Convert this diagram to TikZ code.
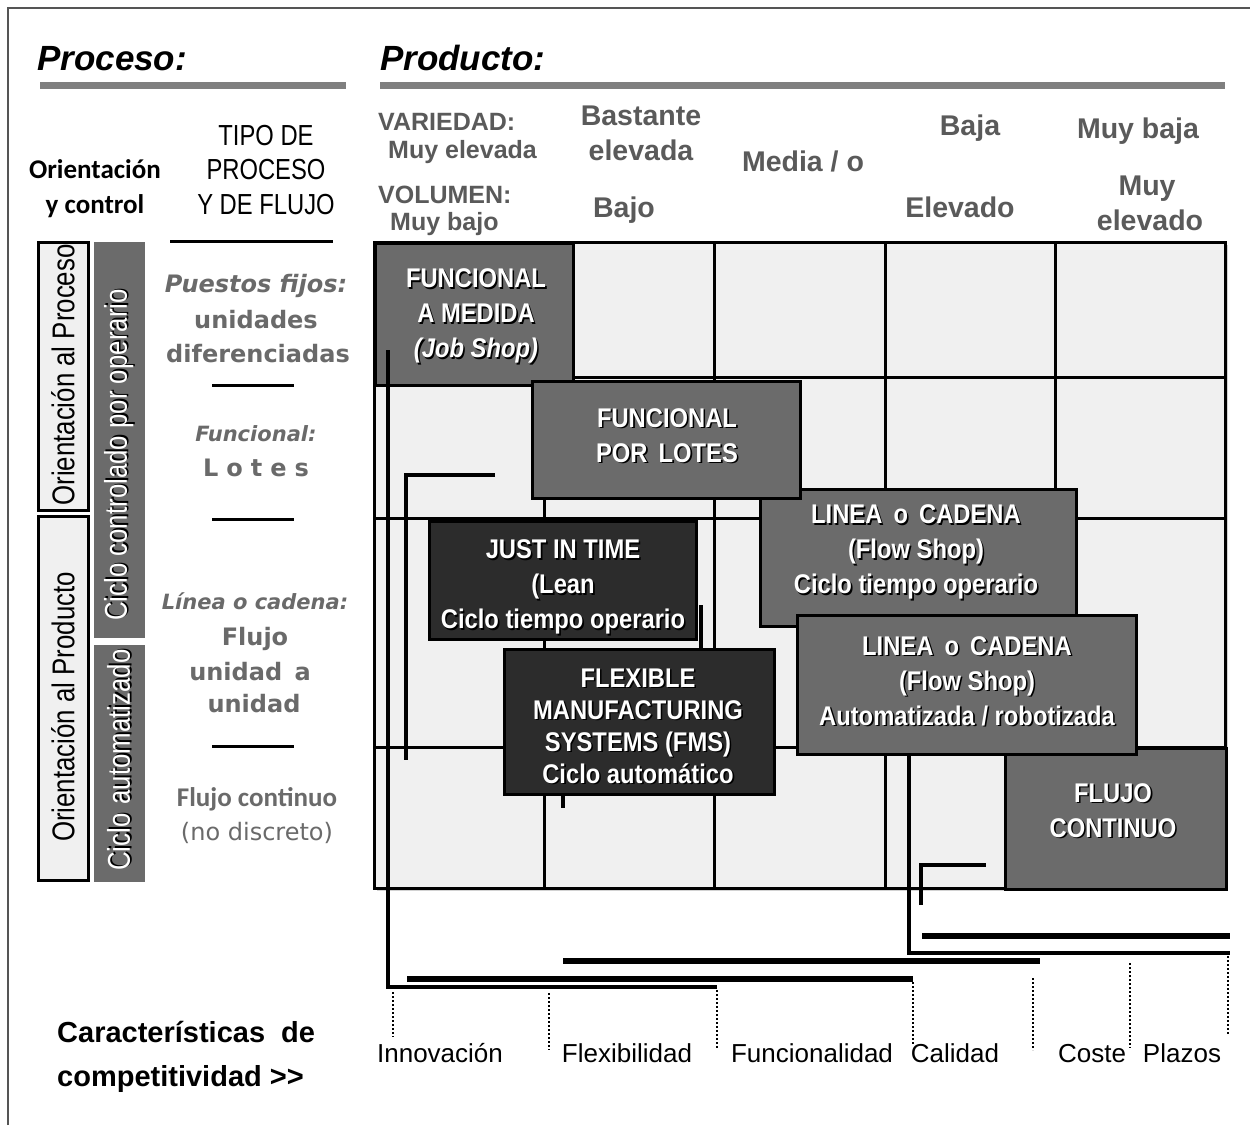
\documentclass[tikz,border=0pt]{standalone}
\usepackage{fontspec}
\setmainfont{Liberation Sans}
\newfontfamily\narrowsans[FakeStretch=0.82]{Liberation Sans}
\newfontfamily\boxsans[FakeStretch=0.88]{Liberation Sans}
\newfontfamily\dvsans{DejaVu Sans}
\newfontfamily\carlito{Carlito}

\definecolor{cellfill}{HTML}{F0F0F0}
\definecolor{midfill}{HTML}{6B6B6B}
\definecolor{darkfill}{HTML}{2C2C2C}
\definecolor{bargray}{HTML}{7F7F7F}
\definecolor{headgray}{HTML}{5A5A5A}
\definecolor{colgray}{HTML}{6A6A6A}
\definecolor{framegray}{HTML}{555555}

% white lettering with a dark drop shadow
\newcommand\shd[1]{\leavevmode\rlap{\kern1.6pt\raisebox{-1.6pt}{\textcolor{black}{#1}}}#1}

\tikzset{
  gridline/.style={draw=black, line width=3pt},
  procbox/.style={draw=black, line width=3pt, inner sep=0pt, anchor=north west},
  midbox/.style={procbox, fill=midfill},
  darkbox/.style={procbox, fill=darkfill},
  boxtext/.style={text=white, align=center, inner sep=0pt,
    font=\boxsans\bfseries\fontsize{27}{35}\selectfont},
  orbox/.style={draw=black, line width=3pt, fill=cellfill, inner sep=0pt},
  cyclebar/.style={fill=midfill, inner sep=0pt},
  vtext/.style={rotate=90, inner sep=0pt, font=\narrowsans\fontsize{31.5}{31.5}\selectfont},
  headbar/.style={draw=bargray, line width=7pt},
  rule/.style={draw=black, line width=3pt},
  rangeL/.style={draw=black, line width=4pt},
  rangebar/.style={draw=black, line width=6pt},
  inner/.style={draw=black, line width=3.5pt},
  sep/.style={draw=black, line width=1.3pt, dash pattern=on 1.6pt off 2.4pt},
  prodhead/.style={text=headgray, inner sep=0pt, font=\bfseries\fontsize{25}{25}\selectfont},
  prodval/.style={text=headgray, inner sep=0pt, anchor=base, font=\bfseries\fontsize{28.5}{28.5}\selectfont},
  coltext/.style={text=colgray, inner sep=0pt, anchor=base, font=\dvsans\bfseries\fontsize{24}{24}\selectfont},
  colital/.style={coltext, font=\dvsans\bfseries\itshape\fontsize{21}{21}\selectfont},
  charlabel/.style={inner sep=0pt, anchor=base, font=\fontsize{26}{26}\selectfont},
}

\begin{document}
\begin{tikzpicture}[x=1pt, y=-1pt]
\useasboundingbox (0,0) rectangle (1250,1125);
\fill[white] (0,0) rectangle (1250,1125);
\draw[framegray, line width=1.5pt] (8,1125) -- (8,8) -- (1250,8);

% ---- headings
\node (proceso) [anchor=base west, inner sep=0pt, font=\bfseries\itshape\fontsize{35}{35}\selectfont] at (37,70) {Proceso:};
\node (producto) [anchor=base west, inner sep=0pt, font=\bfseries\itshape\fontsize{35}{35}\selectfont] at (380,70) {Producto:};
\coordinate (pb1) at (40,85);  \coordinate (pb2) at (346,85);
\coordinate (qb1) at (380,85); \coordinate (qb2) at (1225,85);
\draw[headbar] (pb1) -- (pb2);
\draw[headbar] (qb1) -- (qb2);

% ---- column titles (base = baseline of the last line)
\node (orient) [align=center, inner sep=0pt, anchor=base, font=\carlito\bfseries\fontsize{27}{35}\selectfont] at (95,213) {Orientación\\y control};
\node (tipo) [align=center, inner sep=0pt, anchor=base, font=\narrowsans\fontsize{29}{34.5}\selectfont] at (266,214) {TIPO DE\\PROCESO\\Y DE FLUJO};
\coordinate (t1) at (170,241); \coordinate (t2) at (333,241);
\draw[rule] (t1) -- (t2);

% ---- product header
\node (var) [prodhead, anchor=base west] at (378,130) {VARIEDAD:};
\node (varv) [prodhead, anchor=base west] at (388,158) {Muy elevada};
\node (vol) [prodhead, anchor=base west] at (378,203) {VOLUMEN:};
\node (volv) [prodhead, anchor=base west] at (390,230) {Muy bajo};
\node (h1a) [prodval] at (641,125) {Bastante};
\node (h1b) [prodval] at (641,160) {elevada};
\node (h2) [prodval] at (803,171) {Media / o};
\node (h3) [prodval] at (970,135) {Baja};
\node (h4) [prodval] at (1138,138) {Muy baja};
\node (v1) [prodval] at (624,217) {Bajo};
\node (v3) [prodval] at (960,217) {Elevado};
\node (v4a) [prodval] at (1147,195) {Muy};
\node (v4b) [prodval] at (1150,230) {elevado};

% ---- left orientation boxes and cycle bars
\node (oproc) [orbox, minimum width=50, minimum height=268] at (63,376) {};
\node (oprod) [orbox, minimum width=50, minimum height=364] at (63,698) {};
\node (cop) [cyclebar, minimum width=51, minimum height=396] at (119.5,440) {};
\node (cauto) [cyclebar, minimum width=51, minimum height=237] at (119.5,763.5) {};
\node (oproc-t) [vtext] at (63,375) {Orientación al Proceso};
\node (oprod-t) [vtext] at (63,707) {Orientación al Producto};
\node (cop-t) [vtext, text=white] at (119.5,455) {\shd{Ciclo controlado por operario}};
\node (cauto-t) [vtext, text=white] at (119.5,760) {\shd{Ciclo\hspace{9pt}automatizado}};

% ---- process type column
\node (pf1) [colital, font=\dvsans\bfseries\itshape\fontsize{24}{24}\selectfont] at (256,292) {Puestos fijos:};
\node (pf2) [coltext] at (256,328) {unidades};
\node (pf3) [coltext] at (258,362) {diferenciadas};
\coordinate (s1a) at (212,385); \coordinate (s1b) at (294,385);
\draw[rule] (s1a) -- (s1b);
\node (fu1) [colital] at (256,441) {Funcional:};
\node (fu2) [coltext] at (256,476) {L\,\,o\,\,t\,\,e\,\,s};
\coordinate (s2a) at (212,519); \coordinate (s2b) at (294,519);
\draw[rule] (s2a) -- (s2b);
\node (li1) [colital] at (255,609) {Línea o cadena:};
\node (li2) [coltext] at (255,645) {Flujo};
\node (li3) [coltext] at (250,680) {unidad\,\ a};
\node (li4) [coltext] at (254,712) {unidad};
\coordinate (s3a) at (212,746); \coordinate (s3b) at (294,746);
\draw[rule] (s3a) -- (s3b);
\node (fc1) [coltext, font=\carlito\bfseries\fontsize{27}{27}\selectfont] at (257,806) {Flujo continuo};
\node (fc2) [coltext, font=\dvsans\fontsize{24}{24}\selectfont] at (257,840) {(no discreto)};

% ---- matrix
\fill[gray!35] (377,245) rectangle (1228,891);
\draw[gridline, fill=cellfill] (374,242) rectangle (1225,888);
\foreach \gx in {544,714,885,1055} \draw[gridline] (\gx,242) -- (\gx,888);
\foreach \gy in {377,518,747} \draw[gridline] (374,\gy) -- (1225,\gy);

% ---- process types
\node (jobshop) [midbox, minimum width=198, minimum height=142] at (374,242) {};
\node (jobshop-t) [boxtext] at (476,317) {\shd{FUNCIONAL}\\\shd{A MEDIDA}\\\shd{\textit{(Job Shop)}}};
\node (flow1) [midbox, minimum width=316, minimum height=137] at (759,488) {};
\node (flow1-t) [boxtext] at (916,553) {\shd{LINEA\, o\, CADENA}\\\shd{(Flow Shop)}\\\shd{Ciclo tiempo operario}};
\node (lotes) [midbox, minimum width=268, minimum height=117] at (531,380) {};
\node (lotes-t) [boxtext] at (667,436) {\shd{FUNCIONAL}\\\shd{POR\,\ LOTES}};
\node (jit) [darkbox, minimum width=267, minimum height=118] at (428,520) {};
\node (jit-t) [boxtext] at (563,588) {\shd{JUST IN TIME}\\\shd{(Lean}\\\shd{Ciclo tiempo operario}};
\node (fms) [darkbox, minimum width=270, minimum height=145] at (503,648) {};
\node (fms-t) [boxtext, font=\boxsans\bfseries\fontsize{27}{32}\selectfont] at (638,727)
  {\shd{FLEXIBLE}\\\shd{MANUFACTURING}\\\shd{SYSTEMS (FMS)}\\\shd{Ciclo automático}};
\node (flujo) [midbox, minimum width=221, minimum height=141] at (1004,747) {};
\node (flujo-t) [boxtext] at (1113,811) {\shd{FLUJO}\\\shd{CONTINUO}};
\node (flow2) [midbox, minimum width=339, minimum height=139] at (796,614) {};
\node (flow2-t) [boxtext] at (967,682) {\shd{LINEA\, o\, CADENA}\\\shd{(Flow Shop)}\\\shd{Automatizada / robotizada}};

% ---- ranges of competitive characteristics
\coordinate (a1) at (388,350); \coordinate (a2) at (388,987); \coordinate (a3) at (717,987);
\draw[rangeL] (a1) -- (a2) -- (a3);
\coordinate (b1) at (495,475); \coordinate (b2) at (406,475); \coordinate (b3) at (406,760);
\draw[inner] (b1) -- (b2) -- (b3);
\coordinate (c1) at (701,605); \coordinate (c2) at (701,648);
\draw[inner] (c1) -- (c2);
\coordinate (d1) at (563,793); \coordinate (d2) at (563,808);
\draw[inner] (d1) -- (d2);
\coordinate (e1) at (909,753); \coordinate (e2) at (909,953); \coordinate (e3) at (1230,953);
\draw[rangeL] (e1) -- (e2) -- (e3);
\coordinate (f1) at (921,905); \coordinate (f2) at (921,865); \coordinate (f3) at (986,865);
\draw[inner] (f1) -- (f2) -- (f3);
\coordinate (g1) at (407,979); \coordinate (g2) at (913,979);
\draw[rangebar] (g1) -- (g2);
\coordinate (h1) at (563,961); \coordinate (h2) at (1040,961);
\draw[rangebar] (h1) -- (h2);
\coordinate (k1) at (922,936); \coordinate (k2) at (1230,936);
\draw[rangebar] (k1) -- (k2);

% ---- dotted separators between characteristics
\draw[sep] (393,992) -- (393,1037);
\draw[sep] (549,993) -- (549,1050);
\draw[sep] (717,990) -- (717,1048);
\draw[sep] (913,982) -- (913,1045);
\draw[sep] (1033,978) -- (1033,1050);
\draw[sep] (1130,963) -- (1130,1048);
\draw[sep] (1228,956) -- (1228,1035);

% ---- characteristics
\node (innov) [charlabel] at (440,1062) {Innovación};
\node (flex) [charlabel] at (627,1062) {Flexibilidad};
\node (func) [charlabel] at (812,1062) {Funcionalidad};
\node (cal) [charlabel] at (955,1062) {Calidad};
\node (coste) [charlabel] at (1092,1062) {Coste};
\node (plazos) [charlabel] at (1182,1062) {Plazos};
\node (carac) [anchor=base west, inner sep=0pt, font=\bfseries\fontsize{29}{44}\selectfont, align=left] at (57,1086)
  {Características\ \ de\\competitividad >{}>};
\end{tikzpicture}
\end{document}
